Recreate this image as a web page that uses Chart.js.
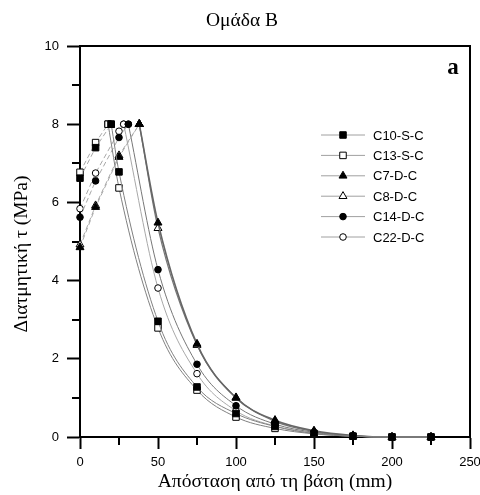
<!DOCTYPE html>
<html>
<head>
<meta charset="utf-8">
<script src="https://cdn.jsdelivr.net/npm/chart.js@4/dist/chart.umd.min.js"></script>
<style>
  html, body { margin: 0; padding: 0; background: #fff; }
  #wrap { width: 480px; height: 495px; }
</style>
</head>
<body>
<div id="wrap"><canvas id="chart"></canvas></div>
<script>
'use strict';

// --- data ---
const seriesNames = ['C10-S-C', 'C13-S-C', 'C7-D-C', 'C8-D-C', 'C14-D-C', 'C22-D-C'];
const startX = [0, 10];
const startY = [[6.62, 7.40], [6.77, 7.53], [4.85, 5.88], [4.92, 5.92], [5.62, 6.55], [5.84, 6.75]];
const midX = 25;
const midY = [6.78, 6.37, 7.16, 7.20, 7.66, 7.82];
const peakX = [20, 18, 38, 38, 31, 28];
const peakY = [8, 8, 8, 8, 8, 8];
const tailX = [50, 75, 100, 125, 150, 175, 200, 225];
const tailC10 = [2.96, 1.28, 0.60, 0.27, 0.09, 0.02, 0, 0];
const tailC13 = [2.79, 1.20, 0.51, 0.22, 0.08, 0.02, 0, 0];
const tailC7  = [5.48, 2.38, 1.00, 0.43, 0.16, 0.04, 0, 0];
const tailC8  = [5.34, 2.35, 1.01, 0.40, 0.14, 0.03, 0, 0];
const tailC14 = [4.28, 1.86, 0.80, 0.33, 0.12, 0.03, 0, 0];
const tailC22 = [3.81, 1.62, 0.67, 0.28, 0.10, 0.02, 0, 0];
const tails = [tailC10, tailC13, tailC7, tailC8, tailC14, tailC22];
const xTicks = [0, 50, 100, 150, 200, 250];
const yTicks = [0, 2, 4, 6, 8, 10];

// --- styles ---
const markers = [
  { style: 'rect', fill: '#000', r: 4.6 },
  { style: 'rect', fill: '#fff', r: 4.6 },
  { style: 'triangle', fill: '#000', r: 4.6 },
  { style: 'triangle', fill: '#fff', r: 4.6 },
  { style: 'circle', fill: '#000', r: 3.3 },
  { style: 'circle', fill: '#fff', r: 3.3 },
];
const curveColor = ['#808080', '#808080', '#666666', '#777777', '#777777', '#a8a8a8'];
const curveWidth = [1, 1, 1.6, 1.2, 1, 1];
const SERIF = '"Liberation Serif", "DejaVu Serif", serif';
const SANS = '"Liberation Sans", Arial, sans-serif';

function buildDatasets() {
  const out = [];
  seriesNames.forEach((name, i) => {
    const rise = startX.map((x, k) => ({ x, y: startY[i][k] }));
    const fall = [];
    if (midX < peakX[i]) rise.push({ x: midX, y: midY[i] });
    rise.push({ x: peakX[i], y: peakY[i] });
    fall.push({ x: peakX[i], y: peakY[i] });
    if (midX > peakX[i]) fall.push({ x: midX, y: midY[i] });
    tailX.forEach((x, k) => fall.push({ x, y: tails[i][k] }));
    const m = markers[i];
    const pts = {
      pointStyle: m.style, pointRadius: m.r, pointHoverRadius: m.r,
      pointBackgroundColor: m.fill, pointBorderColor: '#000', pointBorderWidth: 1,
    };
    out.push({ label: name + ' rise', data: rise, borderColor: '#a8a8a8', borderWidth: 1,
      borderDash: [5, 3], tension: 0, clip: false, ...pts });
    out.push({ label: name, data: fall, borderColor: curveColor[i], borderWidth: curveWidth[i],
      cubicInterpolationMode: 'monotone', clip: false, ...pts });
  });
  return out;
}

const decor = {
  id: 'decor',
  beforeDatasetsDraw(chart) {
    const { ctx, chartArea: a, scales: { x, y } } = chart;
    ctx.save();
    ctx.strokeStyle = '#000';
    ctx.lineWidth = 2;
    ctx.strokeRect(a.left, a.top, a.right - a.left, a.bottom - a.top);
    ctx.beginPath();
    [1, 3, 5, 7, 9].forEach(v => {
      const py = Math.round(y.getPixelForValue(v));
      ctx.moveTo(a.left - 8, py); ctx.lineTo(a.left, py);
    });
    [25, 75, 125, 175, 225].forEach(v => {
      const px = Math.round(x.getPixelForValue(v));
      ctx.moveTo(px, a.bottom); ctx.lineTo(px, a.bottom + 8);
    });
    ctx.stroke();
    ctx.restore();
  },
  afterDraw(chart) {
    const { ctx, chartArea: a } = chart;
    ctx.save();
    ctx.fillStyle = '#000';
    ctx.textBaseline = 'middle';
    ctx.textAlign = 'center';
    ctx.font = '19.5px ' + SERIF;
    ctx.fillText('Ομάδα Β', 242, 21);
    ctx.fillText('Απόσταση από τη βάση (mm)', (a.left + a.right) / 2, 482);
    ctx.save();
    ctx.translate(22, 254);
    ctx.rotate(-Math.PI / 2);
    ctx.fillText('Διατμητική τ (MPa)', 0, 0);
    ctx.restore();
    ctx.font = 'bold 23px ' + SERIF;
    ctx.fillText('a', 453, 68);

    // legend: line with marker in the middle
    ctx.font = '13px ' + SANS;
    ctx.textAlign = 'left';
    seriesNames.forEach((name, i) => {
      const ly = 135 + i * 20.4;
      ctx.strokeStyle = '#a0a0a0';
      ctx.lineWidth = 1;
      ctx.beginPath(); ctx.moveTo(321, ly); ctx.lineTo(365, ly); ctx.stroke();
      ctx.fillStyle = markers[i].fill;
      ctx.strokeStyle = '#000';
      Chart.helpers.drawPoint(ctx, { pointStyle: markers[i].style, radius: markers[i].r, borderWidth: 1, rotation: 0 }, 343, ly);
      ctx.fillStyle = '#000';
      ctx.fillText(name, 373, ly + 1);
    });
    ctx.restore();
  },
};

new Chart(document.getElementById('chart'), {
  type: 'line',
  data: { datasets: buildDatasets() },
  options: {
    responsive: true,
    maintainAspectRatio: false,
    animation: false,
    layout: { padding: { top: 46, right: 10, left: 0, bottom: 0 } },
    plugins: { legend: { display: false }, tooltip: { enabled: false } },
    scales: {
      x: {
        type: 'linear', min: 0, max: 250,
        afterBuildTicks: s => { s.ticks = xTicks.map(v => ({ value: v })); },
        afterFit: s => { s.height = 58; s.paddingLeft = 0; s.paddingRight = 0; },
        grid: { drawOnChartArea: false, tickLength: 12, tickColor: '#000', tickWidth: 2 },
        border: { display: true, color: '#000', width: 2 },
        ticks: { color: '#000', font: { family: SANS, size: 13 }, padding: 6, maxRotation: 0 },
      },
      y: {
        type: 'linear', min: 0, max: 10,
        afterBuildTicks: s => { s.ticks = yTicks.map(v => ({ value: v })); },
        afterFit: s => { s.width = 80; },
        grid: { drawOnChartArea: false, tickLength: 13, tickColor: '#000', tickWidth: 2 },
        border: { display: true, color: '#000', width: 2 },
        ticks: { color: '#000', font: { family: SANS, size: 13 }, padding: 8 },
      },
    },
  },
  plugins: [decor],
});
</script>
</body>
</html>
